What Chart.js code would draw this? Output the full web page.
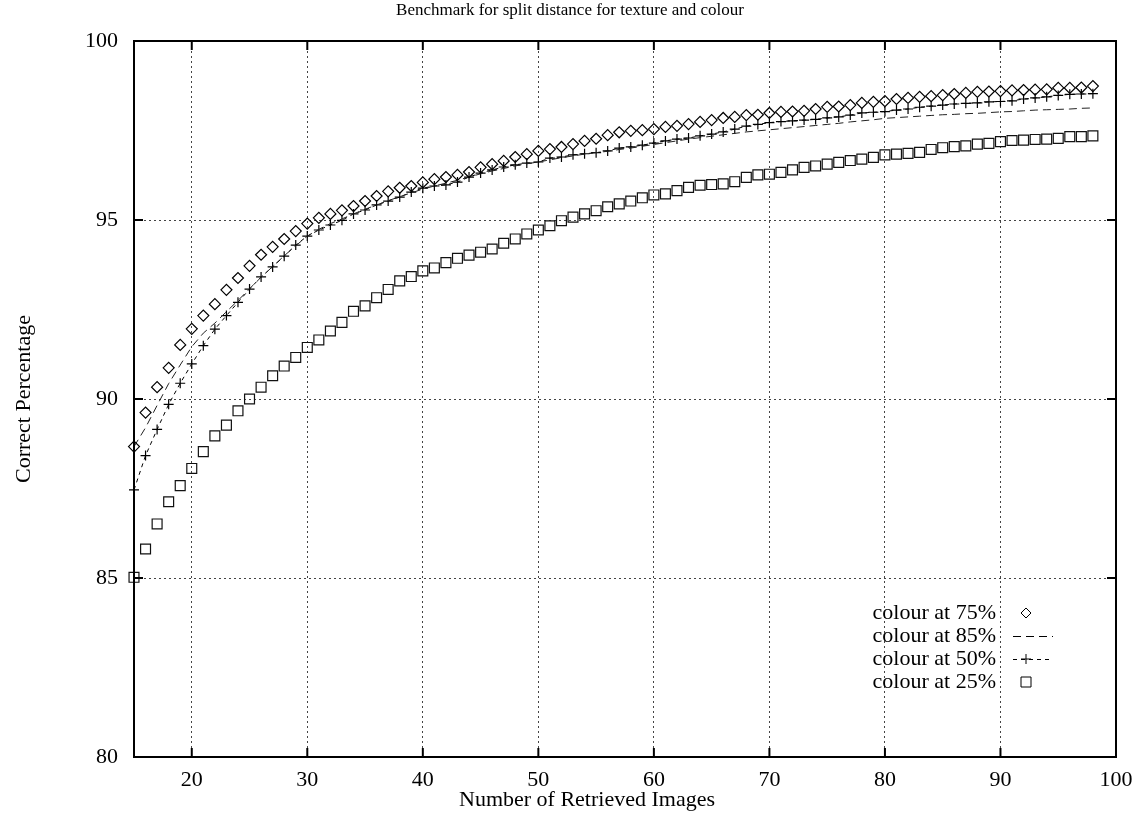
<!DOCTYPE html>
<html>
<head>
<meta charset="utf-8">
<title>Benchmark for split distance for texture and colour</title>
<script src="https://cdn.jsdelivr.net/npm/chart.js@4/dist/chart.umd.min.js"></script>
<style>
  html, body { margin: 0; padding: 0; background: #fff; }
  canvas { display: block; }
</style>
</head>
<body>
<canvas id="grafic" width="1136" height="816"></canvas>
<script>
// ---------- Dades ----------

const imatges = [
  15, 16, 17, 18, 19, 20, 21, 22, 23, 24, 25, 26, 27, 28, 29, 30, 31, 32, 33, 34,
  35, 36, 37, 38, 39, 40, 41, 42, 43, 44, 45, 46, 47, 48, 49, 50, 51, 52, 53, 54,
  55, 56, 57, 58, 59, 60, 61, 62, 63, 64, 65, 66, 67, 68, 69, 70, 71, 72, 73, 74,
  75, 76, 77, 78, 79, 80, 81, 82, 83, 84, 85, 86, 87, 88, 89, 90, 91, 92, 93, 94,
  95, 96, 97, 98
];

const colour75 = [
  88.67, 89.62, 90.33, 90.87, 91.51, 91.96, 92.33, 92.65, 93.05, 93.38,
  93.72, 94.03, 94.25, 94.47, 94.69, 94.90, 95.06, 95.17, 95.27, 95.39,
  95.53, 95.67, 95.80, 95.90, 95.95, 96.05, 96.14, 96.20, 96.26, 96.34,
  96.47, 96.56, 96.65, 96.76, 96.84, 96.93, 96.98, 97.04, 97.12, 97.21,
  97.27, 97.37, 97.45, 97.49, 97.51, 97.54, 97.60, 97.63, 97.68, 97.74,
  97.79, 97.85, 97.88, 97.93, 97.94, 97.99, 98.02, 98.03, 98.05, 98.10,
  98.16, 98.17, 98.21, 98.27, 98.30, 98.32, 98.38, 98.41, 98.44, 98.46,
  98.49, 98.52, 98.55, 98.58, 98.59, 98.60, 98.62, 98.63, 98.64, 98.65,
  98.69, 98.69, 98.70, 98.74
];

const colour85 = [
  88.67, 89.20, 89.82, 90.43, 90.95, 91.46, 91.84, 92.12, 92.44, 92.75,
  93.08, 93.40, 93.70, 94.00, 94.28, 94.55, 94.74, 94.90, 95.03, 95.17,
  95.30, 95.42, 95.54, 95.65, 95.76, 95.86, 95.95, 96.03, 96.11, 96.20,
  96.29, 96.37, 96.44, 96.51, 96.57, 96.62, 96.68, 96.74, 96.79, 96.84,
  96.88, 96.92, 96.97, 97.01, 97.06, 97.11, 97.16, 97.21, 97.26, 97.30,
  97.34, 97.38, 97.42, 97.46, 97.49, 97.52, 97.55, 97.58, 97.61, 97.64,
  97.67, 97.70, 97.74, 97.77, 97.80, 97.84, 97.86, 97.88, 97.90, 97.92,
  97.94, 97.95, 97.97, 97.98, 98.00, 98.02, 98.03, 98.05, 98.07, 98.08,
  98.09, 98.10, 98.12, 98.13
];

const colour50 = [
  87.46, 88.42, 89.15, 89.85, 90.44, 90.98, 91.49, 91.95, 92.33, 92.70,
  93.07, 93.41, 93.69, 93.99, 94.30, 94.55, 94.72, 94.86, 94.99, 95.17,
  95.28, 95.42, 95.53, 95.64, 95.78, 95.89, 95.95, 95.98, 96.06, 96.20,
  96.31, 96.40, 96.48, 96.54, 96.59, 96.62, 96.73, 96.76, 96.82, 96.85,
  96.88, 96.93, 97.01, 97.04, 97.09, 97.15, 97.21, 97.26, 97.29, 97.35,
  97.40, 97.46, 97.54, 97.62, 97.67, 97.72, 97.75, 97.77, 97.79, 97.81,
  97.85, 97.88, 97.93, 97.99, 98.01, 98.03, 98.07, 98.10, 98.15, 98.18,
  98.21, 98.24, 98.26, 98.27, 98.30, 98.31, 98.33, 98.38, 98.41, 98.44,
  98.48, 98.51, 98.52, 98.53
];

const colour25 = [
  85.02, 85.81, 86.51, 87.13, 87.58, 88.06, 88.53, 88.97, 89.27, 89.67,
  90.00, 90.33, 90.65, 90.92, 91.16, 91.44, 91.65, 91.90, 92.14, 92.45,
  92.60, 92.83, 93.06, 93.30, 93.42, 93.58, 93.66, 93.81, 93.93, 94.02,
  94.10, 94.19, 94.35, 94.47, 94.61, 94.72, 94.84, 94.98, 95.08, 95.17,
  95.26, 95.37, 95.45, 95.53, 95.62, 95.70, 95.73, 95.82, 95.91, 95.97,
  95.99, 96.01, 96.07, 96.19, 96.26, 96.28, 96.33, 96.40, 96.47, 96.51,
  96.56, 96.61, 96.66, 96.70, 96.75, 96.82, 96.84, 96.86, 96.89, 96.97,
  97.02, 97.05, 97.07, 97.12, 97.14, 97.19, 97.22, 97.23, 97.25, 97.26,
  97.28, 97.33, 97.33, 97.35
];

const ticksX = [20, 30, 40, 50, 60, 70, 80, 90, 100];
const ticksY = [80, 85, 90, 95, 100];

const titol = "Benchmark for split distance for texture and colour";
const titolX = "Number of Retrieved Images";
const titolY = "Correct Percentage";

const font = '"Liberation Serif", "Times New Roman", serif';

const punts = valors => imatges.map((x, i) => ({ x: x, y: valors[i] }));

// ---------- Marc, ticks interiors i textos ----------

const marc = {
  id: "marc",
  afterDatasetsDraw(chart) {
    const { ctx, chartArea: a, scales } = chart;
    ctx.save();
    ctx.strokeStyle = "#000";
    ctx.lineWidth = 2;
    ctx.strokeRect(a.left, a.top, a.right - a.left, a.bottom - a.top);
    ctx.beginPath();
    ticksX.forEach(v => {
      const px = scales.x.getPixelForValue(v);
      ctx.moveTo(px, a.bottom); ctx.lineTo(px, a.bottom - 9);
      ctx.moveTo(px, a.top); ctx.lineTo(px, a.top + 9);
    });
    ticksY.forEach(v => {
      const py = scales.y.getPixelForValue(v);
      ctx.moveTo(a.left, py); ctx.lineTo(a.left + 9, py);
      ctx.moveTo(a.right, py); ctx.lineTo(a.right - 9, py);
    });
    ctx.stroke();
    ctx.restore();
  },
  afterDraw(chart) {
    const { ctx, chartArea: a } = chart;
    ctx.save();
    ctx.fillStyle = "#000";
    ctx.textAlign = "center";
    ctx.textBaseline = "middle";

    ctx.font = "17px " + font;
    ctx.fillText(titol, 570, 11);

    ctx.font = "22px " + font;
    ctx.fillText(titolX, 587, 800);

    ctx.save();
    ctx.translate(24, (a.top + a.bottom) / 2);
    ctx.rotate(-Math.PI / 2);
    ctx.fillText(titolY, 0, 0);
    ctx.restore();

    // llegenda
    ctx.textAlign = "right";
    ctx.strokeStyle = "#000";
    ctx.lineWidth = 1;
    chart.data.datasets.forEach((ds, i) => {
      const y = 613 + i * 23;
      ctx.fillText(ds.label, 996, y);
      ctx.beginPath();
      ctx.setLineDash(ds.borderDash || []);
      if (ds.showLine !== false) {
        ctx.moveTo(1013, y + 0.5);
        ctx.lineTo(1053, y + 0.5);
        ctx.stroke();
      }
      ctx.setLineDash([]);
      const cx = 1026;
      ctx.beginPath();
      if (ds.pointStyle === "rectRot" && ds.pointRadius > 0) {
        ctx.moveTo(cx, y - 5); ctx.lineTo(cx + 5, y); ctx.lineTo(cx, y + 5); ctx.lineTo(cx - 5, y); ctx.closePath();
      } else if (ds.pointStyle === "rect" && ds.pointRadius > 0) {
        ctx.rect(cx - 5, y - 5, 10, 10);
      } else if (ds.pointStyle === "cross" && ds.pointRadius > 0) {
        ctx.moveTo(cx - 5, y); ctx.lineTo(cx + 5, y);
        ctx.moveTo(cx, y - 5); ctx.lineTo(cx, y + 5);
      }
      ctx.stroke();
    });
    ctx.restore();
  }
};

// ---------- Gràfic ----------

new Chart(document.getElementById("grafic"), {
  type: "line",
  data: {
    datasets: [
      {
        label: "colour at 75%",
        data: punts(colour75),
        showLine: false,
        pointStyle: "rectRot",
        pointRadius: 5.5,
        pointBorderWidth: 1.2,
        borderColor: "#000",
        backgroundColor: "rgba(0,0,0,0)",
        clip: false
      },
      {
        label: "colour at 85%",
        data: punts(colour85),
        borderColor: "#222",
        borderWidth: 1,
        borderDash: [8, 5],
        pointRadius: 0,
        pointStyle: "line",
        fill: false,
        tension: 0,
        clip: false
      },
      {
        label: "colour at 50%",
        data: punts(colour50),
        borderColor: "#000",
        borderWidth: 1,
        borderDash: [4, 4],
        pointStyle: "cross",
        pointRadius: 5,
        pointBorderWidth: 1.2,
        backgroundColor: "rgba(0,0,0,0)",
        fill: false,
        tension: 0,
        clip: false
      },
      {
        label: "colour at 25%",
        data: punts(colour25),
        showLine: false,
        pointStyle: "rect",
        pointRadius: 7,
        pointBorderWidth: 1.2,
        borderColor: "#111",
        backgroundColor: "rgba(0,0,0,0)",
        clip: false
      }
    ]
  },
  options: {
    responsive: false,
    animation: false,
    events: [],
    layout: {
      padding: { left: 0, right: 20, top: 41, bottom: 0 }
    },
    plugins: {
      legend: { display: false },
      tooltip: { enabled: false },
      title: { display: false }
    },
    scales: {
      x: {
        type: "linear",
        min: 15,
        max: 100,
        afterBuildTicks: s => { s.ticks = ticksX.map(v => ({ value: v })); },
        afterFit: s => { s.height = 59; s.paddingLeft = 0; s.paddingRight = 0; },
        grid: { color: "#444", lineWidth: 1, drawTicks: false },
        border: { display: false, dash: [2, 3] },
        ticks: {
          color: "#000",
          padding: 10,
          maxRotation: 0,
          font: { family: font, size: 22 }
        }
      },
      y: {
        min: 80,
        max: 100,
        afterBuildTicks: s => { s.ticks = ticksY.map(v => ({ value: v })); },
        afterFit: s => { s.width = 134; s.paddingTop = 0; s.paddingBottom = 0; },
        grid: { color: "#444", lineWidth: 1, drawTicks: false },
        border: { display: false, dash: [2, 3] },
        ticks: {
          color: "#000",
          padding: 16,
          font: { family: font, size: 22 }
        }
      }
    }
  },
  plugins: [marc]
});
</script>
</body>
</html>
